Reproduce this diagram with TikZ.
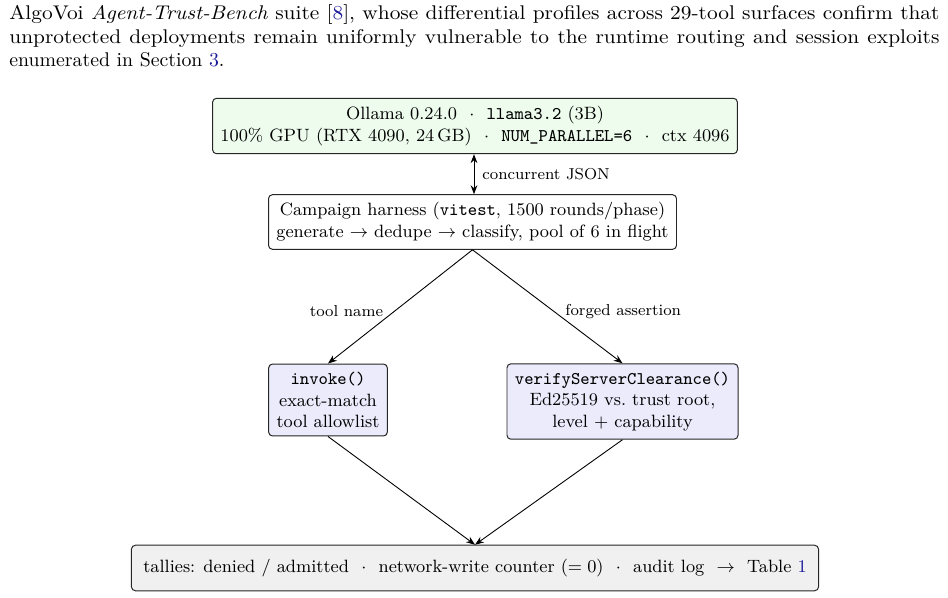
\documentclass[tikz,border=0pt]{standalone}
\usepackage{fontspec}
\newfontfamily\widefont{Latin Modern Roman}[FakeStretch=1.08]
\usetikzlibrary{arrows.meta}
\definecolor{linkblue}{rgb}{0.1,0.1,0.6}
\definecolor{gfill}{rgb}{0.93,0.99,0.93}
\definecolor{bfill}{rgb}{0.92,0.92,0.99}
\definecolor{kfill}{rgb}{0.94,0.94,0.94}
\begin{document}
\begin{tikzpicture}[x=0.50505pt,y=-0.50505pt,
  box/.style={draw=black!85, line width=0.5pt, rounded corners=2pt, align=center, font=\small, inner sep=4pt},
  conn/.style={line width=0.45pt, -{Stealth[length=4.5pt,width=3.4pt]}},
  lbl/.style={font=\footnotesize, inner sep=0pt}]
\useasboundingbox (0,0) rectangle (948,597);
\node[anchor=north west, inner sep=0pt, text width=469.75pt, align=justify] (para) at (9,4)
 {{\widefont AlgoVoi \emph{Agent-Trust-Bench} suite [\textcolor{linkblue}{8}], whose differential profiles across 29-tool surfaces confirm that\linebreak unprotected deployments remain uniformly vulnerable to the runtime routing and session exploits\linebreak}enumerated in Section~\textcolor{linkblue}{3}.};
\node[box, fill=gfill] (ollama) at (475,126)
 {Ollama 0.24.0 ~$\cdot$~ \texttt{llama3.2} (3B)\\100\% GPU (RTX 4090, 24\,GB) ~$\cdot$~ \texttt{NUM\_PARALLEL=6} ~$\cdot$~ ctx 4096};
\node[box, fill=white] (camp) at (472.5,222)
 {Campaign harness (\texttt{vitest}, 1500 rounds/phase)\\generate $\to$ dedupe $\to$ classify, pool of 6 in flight};
\node[box, fill=bfill] (invoke) at (328,400)
 {\texttt{invoke()}\\exact-match\\tool allowlist};
\node[box, fill=bfill] (verify) at (622.5,401.5)
 {\texttt{verifyServerClearance()}\\Ed25519 vs.\ trust root,\\level $+$ capability};
\node[box, fill=kfill, inner xsep=6pt, inner ysep=7pt] (tally) at (475,568)
 {tallies: denied / admitted ~$\cdot$~ network-write counter ($=0$) ~$\cdot$~ audit log ~$\to$~ Table \textcolor{linkblue}{1}};
\draw[conn, {Stealth[length=4.5pt,width=3.4pt]}-{Stealth[length=4.5pt,width=3.4pt]}] (camp.north -| 474,0) -- (ollama.south -| 474,0)
  node[midway, right=4pt, lbl] (cj) {concurrent JSON};
\draw[conn] (camp.south) -- (invoke.north) node[pos=0.54, left=5.5pt, lbl] (tn) {tool name};
\draw[conn] (camp.south) -- (verify.north) node[pos=0.54, right=5.8pt, lbl] (fa) {forged assertion};
\draw[conn] (invoke.south) -- (tally.north);
\draw[conn] (verify.south) -- (tally.north);
\end{tikzpicture}
\end{document}
